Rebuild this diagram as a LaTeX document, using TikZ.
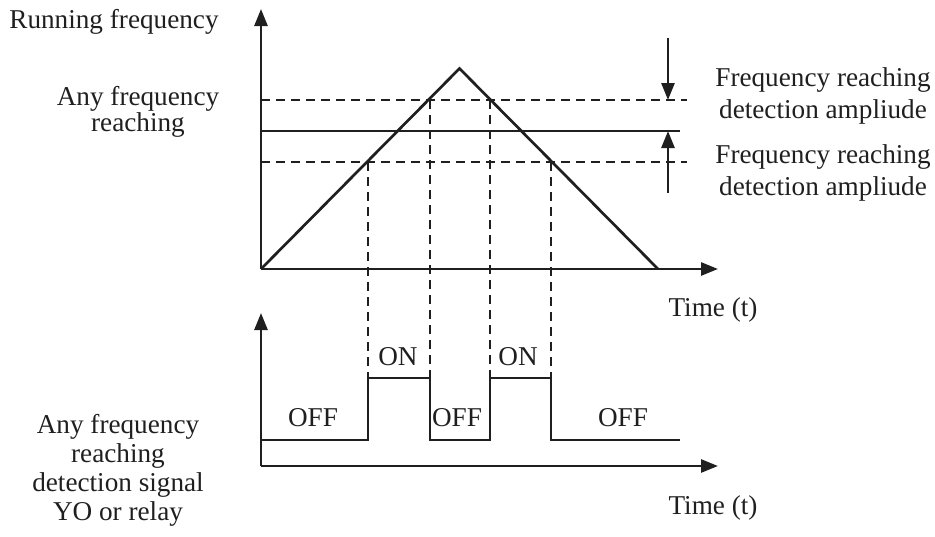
\documentclass[tikz,border=0pt]{standalone}
\usepackage{fontspec}
\setmainfont{Liberation Serif}
\usetikzlibrary{arrows.meta}
\begin{document}
\begin{tikzpicture}[x=1pt,y=-1pt,
  ln/.style={line width=2.7pt,color=black!88},
  dsh/.style={line width=2.5pt,color=black!88,dash pattern=on 9pt off 6pt},
  ax/.style={ln,-{Triangle[length=17pt,width=13pt]}},
  lbl/.style={font=\fontsize{27.2}{27.2}\selectfont,inner sep=0pt,align=center,text=black!88}]
\useasboundingbox (0,0) rectangle (935,536);
% coordinates
\coordinate (o1) at (261,269);
\coordinate (y1) at (261,9);
\coordinate (x1) at (718,269);
\coordinate (apex) at (459.5,68.5);
\coordinate (end1) at (658,269);
\coordinate (a1) at (368,162);
\coordinate (a2) at (430,100);
\coordinate (a3) at (490,100);
\coordinate (a4) at (551,162);
\coordinate (o2) at (261,466);
\coordinate (y2) at (261,313);
\coordinate (x2) at (718,466);
% upper axes
\draw[ax] (o1) -- (y1);
\draw[ax] (o1) -- (x1);
% triangle
\draw[ln,line join=miter] (o1) -- (apex) -- (end1);
% level lines
\draw[ln] (261,131) -- (680,131);
\draw[dsh] (261,100) -- (687,100);
\draw[dsh] (261,162) -- (687,162);
% amplitude arrows
\draw[ax] (668,38) -- (668,100);
\draw[ax] (668,193) -- (668,131);
% lower axes
\draw[ax] (o2) -- (y2);
\draw[ax] (o2) -- (x2);
% signal
\coordinate (s1) at (368,378);
\coordinate (s2) at (430,378);
\coordinate (s3) at (490,378);
\coordinate (s4) at (551,378);
\draw[ln,line join=miter] (261,440) -- (368,440) -- (s1) -- (s2) -- (430,440) -- (490,440) -- (s3) -- (s4) -- (551,440) -- (680,440);
% vertical dashed
\draw[dsh] (a1) -- (s1);
\draw[dsh] (a2) -- (s2);
\draw[dsh] (a3) -- (s3);
\draw[dsh] (a4) -- (s4);
% labels
\node[lbl] (rf) at (114,22) {Running frequency};
\node[lbl,font=\fontsize{27.2}{26}\selectfont] (afr) at (138,112) {Any frequency\\reaching};
\node[lbl,font=\fontsize{27.2}{32}\selectfont] (fr1) at (823,96) {Frequency reaching\\detection ampliude};
\node[lbl,font=\fontsize{27.2}{32}\selectfont] (fr2) at (823,173) {Frequency reaching\\detection ampliude};
\node[lbl] (t1) at (713,310) {Time (t)};
\node[lbl] (t2) at (713,508) {Time (t)};
\node[lbl] (on1) at (398,357) {ON};
\node[lbl] (on2) at (518,357) {ON};
\node[lbl] (off1) at (313,418) {OFF};
\node[lbl] (off2) at (457,418) {OFF};
\node[lbl] (off3) at (623,418) {OFF};
\node[lbl,font=\fontsize{27.2}{29}\selectfont] (sig) at (118,470) {Any frequency\\reaching\\detection signal\\YO or relay};
\end{tikzpicture}
\end{document}
